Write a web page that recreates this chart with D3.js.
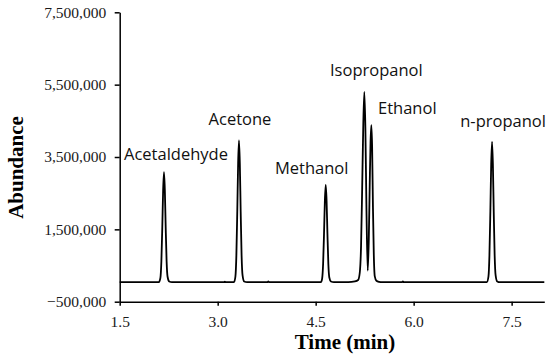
<!DOCTYPE html>
<meta charset="utf-8">
<script src="https://d3js.org/d3.v7.min.js"></script>
<style type="text/css">
  body { margin: 0; background: #fff; }
  svg { display: block; }
</style>
<body>
<svg width="550" height="358"></svg>
<script>

    // chromatogram trace: [time (min), abundance (millions)]
    let trace = [
        [1.50, 0.04], [2.10, 0.04],
        [2.123, 0.16], [2.138, 0.62], [2.152, 1.56], [2.165, 2.59], [2.178, 3.08],
        [2.191, 2.59], [2.204, 1.56], [2.218, 0.62], [2.233, 0.19], [2.258, 0.06], [2.30, 0.04],
        [3.10, 0.04], [3.11, 0.055], [3.12, 0.04],
        [3.25, 0.04], [3.271, 0.19], [3.286, 0.78], [3.300, 2.00], [3.313, 3.33], [3.326, 3.96],
        [3.339, 3.33], [3.352, 2.00], [3.366, 0.78], [3.381, 0.23], [3.406, 0.06], [3.45, 0.04],
        [3.76, 0.04], [3.775, 0.06], [3.79, 0.04],
        [4.58, 0.04], [4.599, 0.14], [4.614, 0.55], [4.628, 1.39], [4.641, 2.30], [4.654, 2.73],
        [4.667, 2.30], [4.680, 1.39], [4.694, 0.55], [4.709, 0.17], [4.734, 0.06], [4.78, 0.04],
        [5.00, 0.04], [5.10, 0.06], [5.15, 0.10], [5.175, 0.30], [5.195, 1.05], [5.212, 2.65],
        [5.229, 4.40], [5.245, 5.30], [5.261, 4.30], [5.278, 2.00], [5.297, 0.36], [5.313, 1.20],
        [5.328, 2.80], [5.340, 3.90], [5.352, 4.38], [5.364, 3.80], [5.377, 2.10], [5.39, 0.80],
        [5.405, 0.20], [5.43, 0.08], [5.47, 0.05], [5.52, 0.04],
        [5.82, 0.04], [5.835, 0.06], [5.85, 0.04],
        [7.12, 0.04], [7.145, 0.19], [7.160, 0.78], [7.174, 1.98], [7.187, 3.30], [7.200, 3.92],
        [7.213, 3.30], [7.226, 1.98], [7.240, 0.78], [7.255, 0.23], [7.28, 0.06], [7.32, 0.04],
        [8.00, 0.04]
    ]

    let peakNames = ['Acetaldehyde', 'Acetone', 'Methanol', 'Isopropanol', 'Ethanol', 'n-propanol'],
        peakTimes = [2.178, 3.326, 4.654, 5.245, 5.352, 7.200],
        peakHeights = [3080000, 3960000, 2730000, 5300000, 4380000, 3920000]

    let xTicks = [1.5, 3.0, 4.5, 6.0, 7.5],
        yTicks = [-500000, 1500000, 3500000, 5500000, 7500000]

    // label offsets from each apex, in px
    let labelDx = [12, 1, -14, 12, 36, 11],
        labelDy = [-12, -15, -11, -16, -11, -15]

    let svg = d3.select('svg')

    let x = d3.scaleLinear().domain([1.5, 8.0]).range([119.7, 544.3]),
        y = d3.scaleLinear().domain([-500000, 7500000]).range([301.7, 12.3])

    let xAxis = svg.append('g')
        .attr('transform', `translate(0,${y(-500000)})`)
        .call(d3.axisBottom(x).tickValues(xTicks).tickFormat(d3.format('.1f'))
            .tickSize(4).tickSizeOuter(0).tickPadding(10))

    let yAxis = svg.append('g')
        .attr('transform', `translate(${x(1.5)},0)`)
        .call(d3.axisLeft(y).tickValues(yTicks).tickFormat(d3.format(','))
            .tickSize(5).tickSizeOuter(0).tickPadding(8.5))

    svg.selectAll('.domain, .tick line')
        .attr('stroke', '#000')
        .attr('stroke-width', 1.5)

    svg.selectAll('.tick text')
        .attr('font-family', '"Liberation Serif", "Times New Roman", serif')
        .attr('font-size', 15.5)
        .attr('fill', '#1a1a1a')

    let line = d3.line()
        .x(d => x(d[0]))
        .y(d => y(d[1] * 1e6))
        .curve(d3.curveMonotoneX)

    svg.append('path')
        .datum(trace)
        .attr('d', line)
        .attr('fill', 'none')
        .attr('stroke', '#000')
        .attr('stroke-width', 1.8)
        .attr('stroke-linejoin', 'round')

    svg.selectAll('.peak-label').data(peakNames).enter().append('text')
        .attr('class', 'peak-label')
        .attr('x', (d, i) => x(peakTimes[i]) + labelDx[i])
        .attr('y', (d, i) => y(peakHeights[i]) + labelDy[i])
        .attr('text-anchor', 'middle')
        .attr('font-family', '"Open Sans", sans-serif')
        .attr('font-size', 16.5)
        .attr('fill', '#111')
        .text(d => d)

    svg.append('text')
        .attr('x', 345)
        .attr('y', 349)
        .attr('text-anchor', 'middle')
        .attr('font-family', '"Liberation Serif", "Times New Roman", serif')
        .attr('font-weight', 'bold')
        .attr('font-size', 21)
        .text('Time (min)')

    svg.append('text')
        .attr('transform', 'translate(23,167.5) rotate(-90)')
        .attr('text-anchor', 'middle')
        .attr('font-family', '"Liberation Serif", "Times New Roman", serif')
        .attr('font-weight', 'bold')
        .attr('font-size', 21)
        .text('Abundance')

</script>
</body>
